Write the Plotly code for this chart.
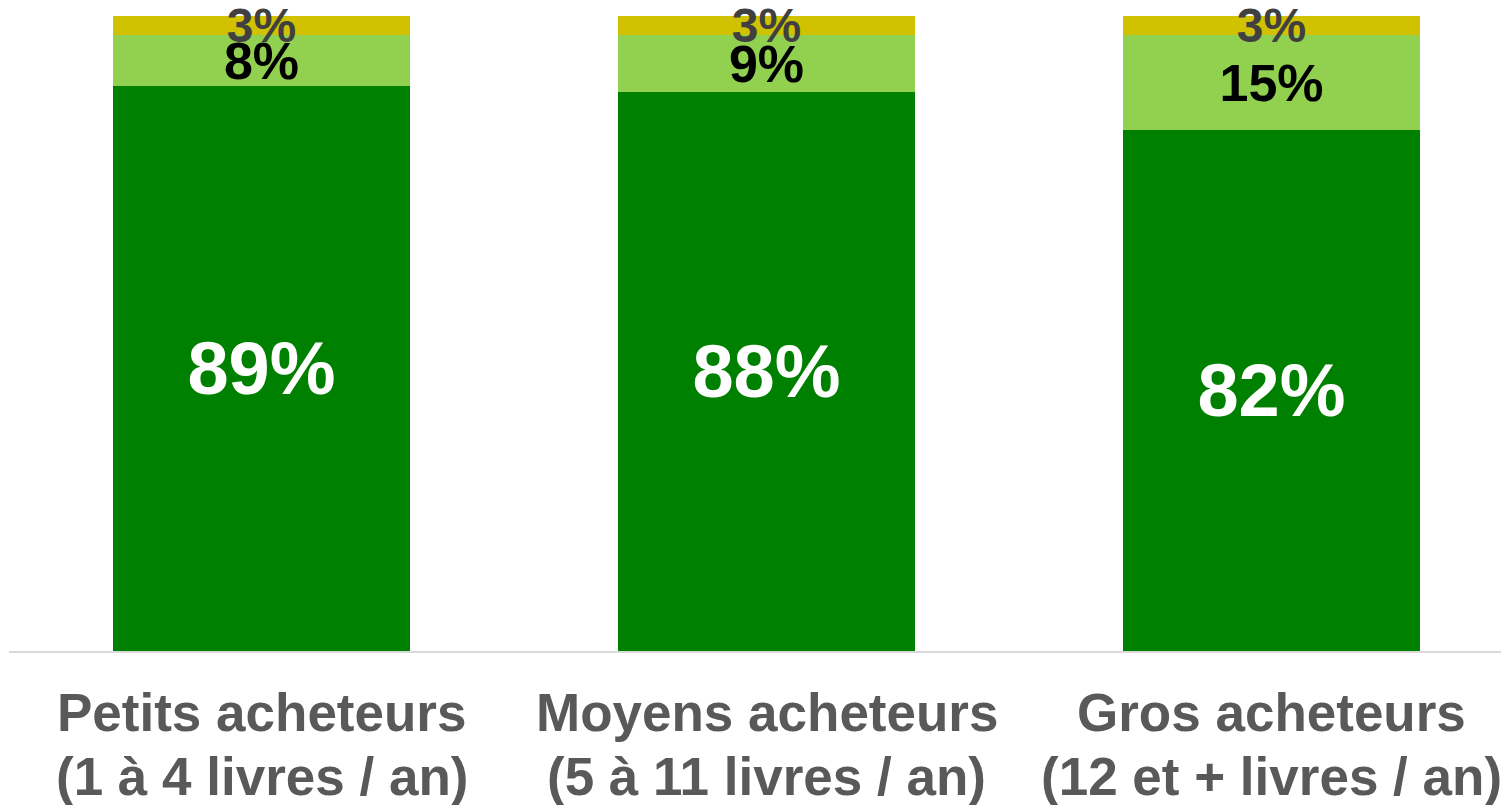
import plotly.graph_objects as go

categories = ["Petits acheteurs", "Moyens acheteurs", "Gros acheteurs"]
sublabels = ["(1 à 4 livres / an)", "(5 à 11 livres / an)", "(12 et + livres / an)"]
serie_bas = [89, 88, 82]
serie_milieu = [8, 9, 15]
serie_haut = [3, 3, 3]

FONT = "Liberation Sans, Arial, sans-serif"

fig = go.Figure()
series = [
    (serie_bas, "#008000", "#FFFFFF", 74),
    (serie_milieu, "#92D050", "#000000", 52),
    (serie_haut, "#D0C200", "#404040", 48),
]
for vals, col, tcol, tsize in series:
    fig.add_trace(go.Bar(
        x=categories, y=vals, marker=dict(color=col, line=dict(width=0)),
        width=0.588,
        text=[f"{v}%" for v in vals], textposition="inside",
        insidetextanchor="middle", constraintext="none",
        textfont=dict(family=FONT, size=tsize, color=tcol, weight="bold"),
        cliponaxis=False, hoverinfo="skip",
    ))

for cat, l1, l2 in zip(categories, categories, sublabels):
    fig.add_annotation(x=cat, xref="x", y=0, yref="paper", text=l1, showarrow=False,
                       yanchor="middle", yshift=-61,
                       font=dict(family=FONT, size=53, color="#595959", weight="bold"))
    fig.add_annotation(x=cat, xref="x", y=0, yref="paper", text=l2, showarrow=False,
                       yanchor="middle", yshift=-125,
                       font=dict(family=FONT, size=53, color="#595959", weight="bold"))

fig.update_layout(
    barmode="stack", width=1501, height=805,
    margin=dict(l=9, r=0, t=16, b=154),
    paper_bgcolor="white", plot_bgcolor="white",
    showlegend=False, bargap=0, hovermode=False,
    xaxis=dict(range=[-0.5, 2.454], showticklabels=False, ticks="", showgrid=False,
               showline=True, linecolor="#D9D9D9", linewidth=2, zeroline=False),
    yaxis=dict(range=[0, 100], visible=False, showgrid=False, zeroline=False),
)
fig.write_html(
    "out.html",
    config={"displayModeBar": False},
    post_script="document.body.style.margin='0';document.body.style.overflow='hidden';",
)
